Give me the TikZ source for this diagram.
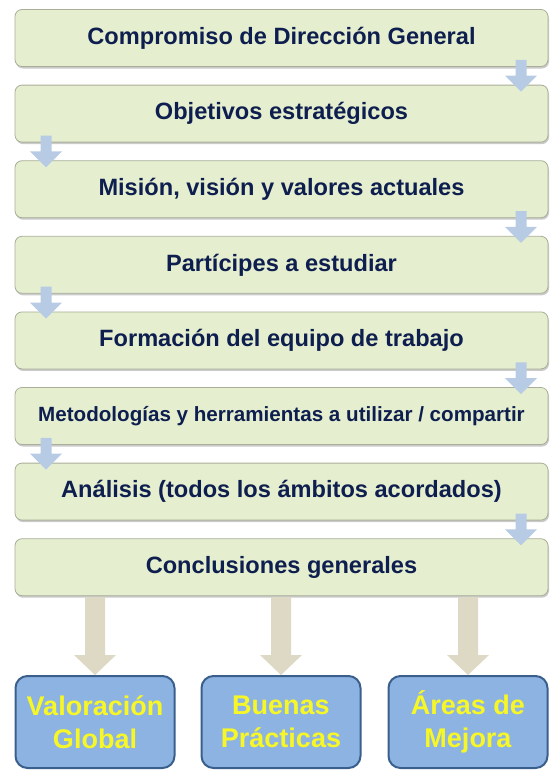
\documentclass[tikz,border=0pt]{standalone}
\usepackage{fontspec}
\setmainfont{Liberation Sans}
\usetikzlibrary{shadows}
\definecolor{greenfill}{HTML}{E5EFCF}
\definecolor{greenedge}{HTML}{A9AE98}
\definecolor{navytext}{HTML}{0E1E4E}
\definecolor{bluefill}{HTML}{8DB3E2}
\definecolor{blueedge}{HTML}{3A5F8C}
\definecolor{smallarrow}{HTML}{B7CBE4}
\definecolor{bigarrow}{HTML}{DDD9C4}
\definecolor{yellowtext}{HTML}{F7F727}
\tikzset{
  stepbox/.style={draw=greenedge, line width=0.8pt, fill=greenfill, rounded corners=7pt,
    minimum width=533pt, minimum height=57pt, inner sep=0pt, text=navytext,
    font=\bfseries\fontsize{23.6}{27}\selectfont,
    drop shadow={shadow xshift=1pt, shadow yshift=-2pt, opacity=0.35, fill=black!60}},
  resultbox/.style={draw=blueedge, line width=2pt, fill=bluefill, rounded corners=12pt,
    minimum width=159pt, minimum height=92pt, inner sep=0pt, text=yellowtext, align=center,
    font=\bfseries\fontsize{27}{33}\selectfont},
  smallarr/.style={fill=smallarrow, draw=none},
  bigarr/.style={fill=bigarrow, draw=none}
}
\begin{document}
\begin{tikzpicture}[x=1pt,y=-1pt]
\useasboundingbox (0,0) rectangle (558,777);
% step boxes (centers)
\node[stepbox] (s1) at (281.5,38) {Compromiso de Dirección General};
\node[stepbox] (s2) at (281.5,113.6) {Objetivos estratégicos};
\node[stepbox] (s3) at (281.5,189.2) {Misión, visión y valores actuales};
\node[stepbox] (s4) at (281.5,264.8) {Partícipes a estudiar};
\node[stepbox] (s5) at (281.5,340.4) {Formación del equipo de trabajo};
\node[stepbox, font=\bfseries\fontsize{20.6}{24}\selectfont] (s6) at (281.5,416) {Metodologías y herramientas a utilizar / compartir};
\node[stepbox] (s7) at (281.5,491.6) {Análisis (todos los ámbitos acordados)};
\node[stepbox] (s8) at (281.5,567.2) {Conclusiones generales};
% small arrows between steps
\foreach \a/\b/\xc in {s1/s2/521, s2/s3/46, s3/s4/521, s4/s5/46, s5/s6/521, s6/s7/46, s7/s8/521}{
  \coordinate (top) at ([yshift=7pt]\a.south);
  \coordinate (tip) at ([yshift=-7pt]\b.north);
  \fill[smallarr] (\xc-5.5,0 |- top) -- (\xc+5.5,0 |- top)
     -- ([yshift=16pt]\xc+5.5,0 |- tip) -- ([yshift=16pt]\xc+16,0 |- tip)
     -- (\xc,0 |- tip) -- ([yshift=16pt]\xc-16,0 |- tip)
     -- ([yshift=16pt]\xc-5.5,0 |- tip) -- cycle;
}
% result boxes
\node[resultbox] (r1) at (95,722) {Valoración\\Global};
\node[resultbox] (r2) at (281,722) {Buenas\\Prácticas};
\node[resultbox] (r3) at (468,722) {Áreas de\\Mejora};
% big arrows
\foreach \r/\xc in {r1/95, r2/281, r3/468}{
  \coordinate (btop) at ([yshift=-1pt]s8.south);
  \coordinate (btip) at (\r.north);
  \fill[bigarr] (\xc-10,0 |- btop) -- (\xc+10,0 |- btop)
     -- ([yshift=20pt]\xc+10,0 |- btip) -- ([yshift=20pt]\xc+21,0 |- btip)
     -- (\xc,0 |- btip) -- ([yshift=20pt]\xc-21,0 |- btip)
     -- ([yshift=20pt]\xc-10,0 |- btip) -- cycle;
}
\end{tikzpicture}
\end{document}
